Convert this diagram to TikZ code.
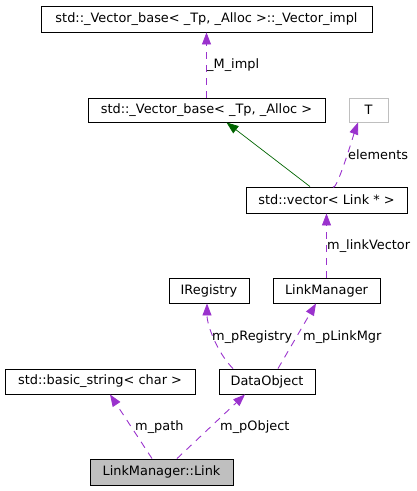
\documentclass[tikz,border=0pt]{standalone}
\usepackage{fontspec}
\setmainfont{DejaVu Sans}
\usetikzlibrary{arrows.meta}
\definecolor{edgepurple}{HTML}{9A32CD}
\definecolor{edgegreen}{HTML}{006400}
\definecolor{boxgray}{HTML}{BFBFBF}
\tikzset{
  cls/.style={draw=black, fill=white, line width=0.9pt, inner sep=0pt, minimum height=#1, font=\fontsize{12.9}{14}\selectfont},
  cls/.default=25pt,
  lbl/.style={anchor=west, inner sep=0pt, font=\fontsize{12.9}{14}\selectfont},
  usage/.style={draw=edgepurple, line width=0.9pt, dash pattern=on 7pt off 6pt, -{Triangle[length=12pt,width=9pt,fill=edgepurple]}},
  inherit/.style={draw=edgegreen, line width=0.7pt, -{Triangle[length=12pt,width=9pt,fill=edgegreen]}},
}
\begin{document}
\begin{tikzpicture}[x=1pt,y=-1pt]
\useasboundingbox (0,0) rectangle (417,491);
\node[cls=26pt, minimum width=331pt] (impl) at (206.5,19) {std::\_Vector\_base< \_Tp, \_Alloc >::\_Vector\_impl};
\node[cls=24pt, minimum width=237pt] (base) at (206.5,110) {std::\_Vector\_base< \_Tp, \_Alloc >};
\node[cls=24pt, minimum width=39pt, draw=boxgray] (T) at (368.5,110) {T};
\node[cls=26pt, minimum width=161pt] (vec) at (326.5,200) {std::vector< Link * >};
\node[cls=25pt, minimum width=80pt] (ireg) at (209,290.5) {IRegistry};
\node[cls=25pt, minimum width=107pt] (lm) at (326.5,290.5) {LinkManager};
\node[cls=25pt, minimum width=190pt] (bs) at (100,381.5) {std::basic\_string< char >};
\node[cls=25pt, minimum width=96pt] (do) at (267,381.5) {DataObject};
\node[cls=26pt, minimum width=143pt, fill=boxgray] (link) at (161.5,472) {LinkManager::Link};

\draw[usage] (base.north) -- (impl.south);
\draw[inherit] ([xshift=-16.5pt]vec.north) -- ([xshift=20pt]base.south);
\draw[usage] ([xshift=6.5pt]vec.north) to[out=-70,in=-110,looseness=0.3] ([xshift=-10.5pt]T.south);
\draw[usage] (lm.north) -- (vec.south);
\draw[usage] ([xshift=-34pt]do.north) to[out=135,in=-90,looseness=0.8] ([xshift=-2pt]ireg.south);
\draw[usage] ([xshift=11pt]do.north) -- ([xshift=-10.5pt]lm.south);
\draw[usage] ([xshift=-9.5pt]link.north) -- ([xshift=10pt]bs.south);
\draw[usage] ([xshift=15.5pt]link.north) -- ([xshift=-22pt]do.south);

\node[lbl] (l1) at (207,65) {\_M\_impl};
\node[lbl] (l2) at (348,155) {elements};
\node[lbl] (l3) at (327,246) {m\_linkVector};
\node[lbl] (l4) at (212,337) {m\_pRegistry};
\node[lbl] (l5) at (303,337) {m\_pLinkMgr};
\node[lbl] (l6) at (135,427) {m\_path};
\node[lbl] (l7) at (220,427) {m\_pObject};
\end{tikzpicture}
\end{document}
